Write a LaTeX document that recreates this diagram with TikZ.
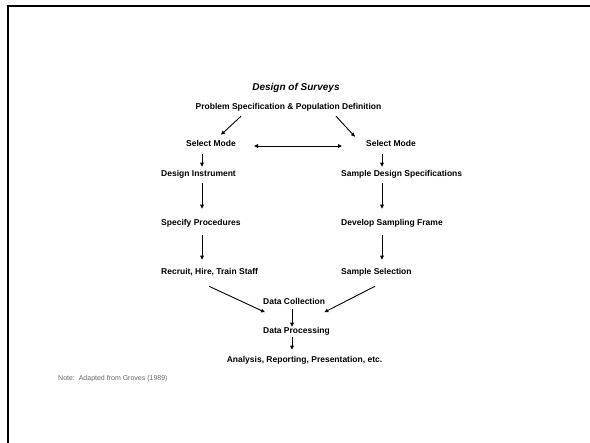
\documentclass[tikz,border=0pt]{standalone}
\usepackage{fontspec}
\setmainfont{Liberation Sans}
\usetikzlibrary{arrows.meta}
\begin{document}
\begin{tikzpicture}[x=1pt,y=-1pt,
  lbl/.style={font=\bfseries\fontsize{8.5}{10}\selectfont, inner sep=0pt,
    text height=6.3pt, text depth=1.8pt},
  ttl/.style={font=\bfseries\itshape\fontsize{10}{12}\selectfont, inner sep=0pt},
  notetext/.style={font=\fontsize{7}{8}\selectfont, text=black!60, inner sep=0pt},
  arr/.style={line width=0.9pt, -{Triangle[length=4pt,width=3.5pt]}},
  arrboth/.style={line width=0.9pt, {Triangle[length=4pt,width=3.5pt]}-{Triangle[length=4pt,width=3.5pt]}}]
\useasboundingbox (0,0) rectangle (590,443);
\fill[white] (0,0) rectangle (590,443);
% slide frame
\draw[line width=2.2pt] (8,443) -- (8,6) -- (590,6);

% column guides for the vertical arrows
\coordinate (cl) at (202,0);
\coordinate (cr) at (382,0);
\coordinate (cm) at (292,0);

% texts
\node[ttl] (title) at (296,88) {Design of Surveys};
\node[lbl] (ps) at (288.5,107) {Problem Specification \& Population Definition};
\node[lbl] (smL) at (211,144) {Select Mode};
\node[lbl] (smR) at (391,144) {Select Mode};
\node[lbl,anchor=west] (di) at (161,174) {Design Instrument};
\node[lbl,anchor=west] (sd) at (341,174) {Sample Design Specifications};
\node[lbl,anchor=west] (sp) at (161,223) {Specify Procedures};
\node[lbl,anchor=west] (df) at (341,223) {Develop Sampling Frame};
\node[lbl,anchor=west] (rh) at (161,272) {Recruit, Hire, Train Staff};
\node[lbl,anchor=west] (ss) at (341,272) {Sample Selection};
\node[lbl,anchor=west] (dc) at (263,302) {Data Collection};
\node[lbl,anchor=west] (dp) at (263,331) {Data Processing};
\node[lbl] (an) at (304.5,360) {Analysis, Reporting, Presentation, etc.};
\node[notetext,anchor=west] (nt) at (58,379) {Note:\ \ Adapted from Groves (1989)};

% branching from the problem definition
\draw[arr] ([shift={(-47.5,5)}]ps.south) -- ([shift={(10,-5)}]smL.north);
\draw[arr] ([shift={(47.5,5)}]ps.south) -- ([shift={(-36,-3)}]smR.north);
\draw[arrboth, shorten <=18pt, shorten >=24pt] ([yshift=-2pt]smL.east) -- ([yshift=-2pt]smR.west);

% left column
\draw[arr, shorten <=6pt, shorten >=3pt] (smL.south -| cl) -- (di.north -| cl);
\draw[arr, shorten <=5pt, shorten >=10pt] (di.south -| cl) -- (sp.north -| cl);
\draw[arr, shorten <=8pt, shorten >=8pt] (sp.south -| cl) -- (rh.north -| cl);

% right column
\draw[arr, shorten <=6pt, shorten >=3pt] (smR.south -| cr) -- (sd.north -| cr);
\draw[arr, shorten <=5pt, shorten >=10pt] (sd.south -| cr) -- (df.north -| cr);
\draw[arr, shorten <=8pt, shorten >=8pt] (df.south -| cr) -- (ss.north -| cr);

% merging into data collection
\draw[arr] ([shift={(48,10)}]rh.south west) -- ([shift={(2,6)}]dc.south west);
\draw[arr] ([shift={(34,10)}]ss.south west) -- ([shift={(-1,6)}]dc.south east);

% final chain
\draw[arr, shorten <=3pt] (dc.south -| cm) -- (dp.north -| cm);
\draw[arr, shorten <=2pt, shorten >=6pt] (dp.south -| cm) -- (an.north -| cm);
\end{tikzpicture}
\end{document}
